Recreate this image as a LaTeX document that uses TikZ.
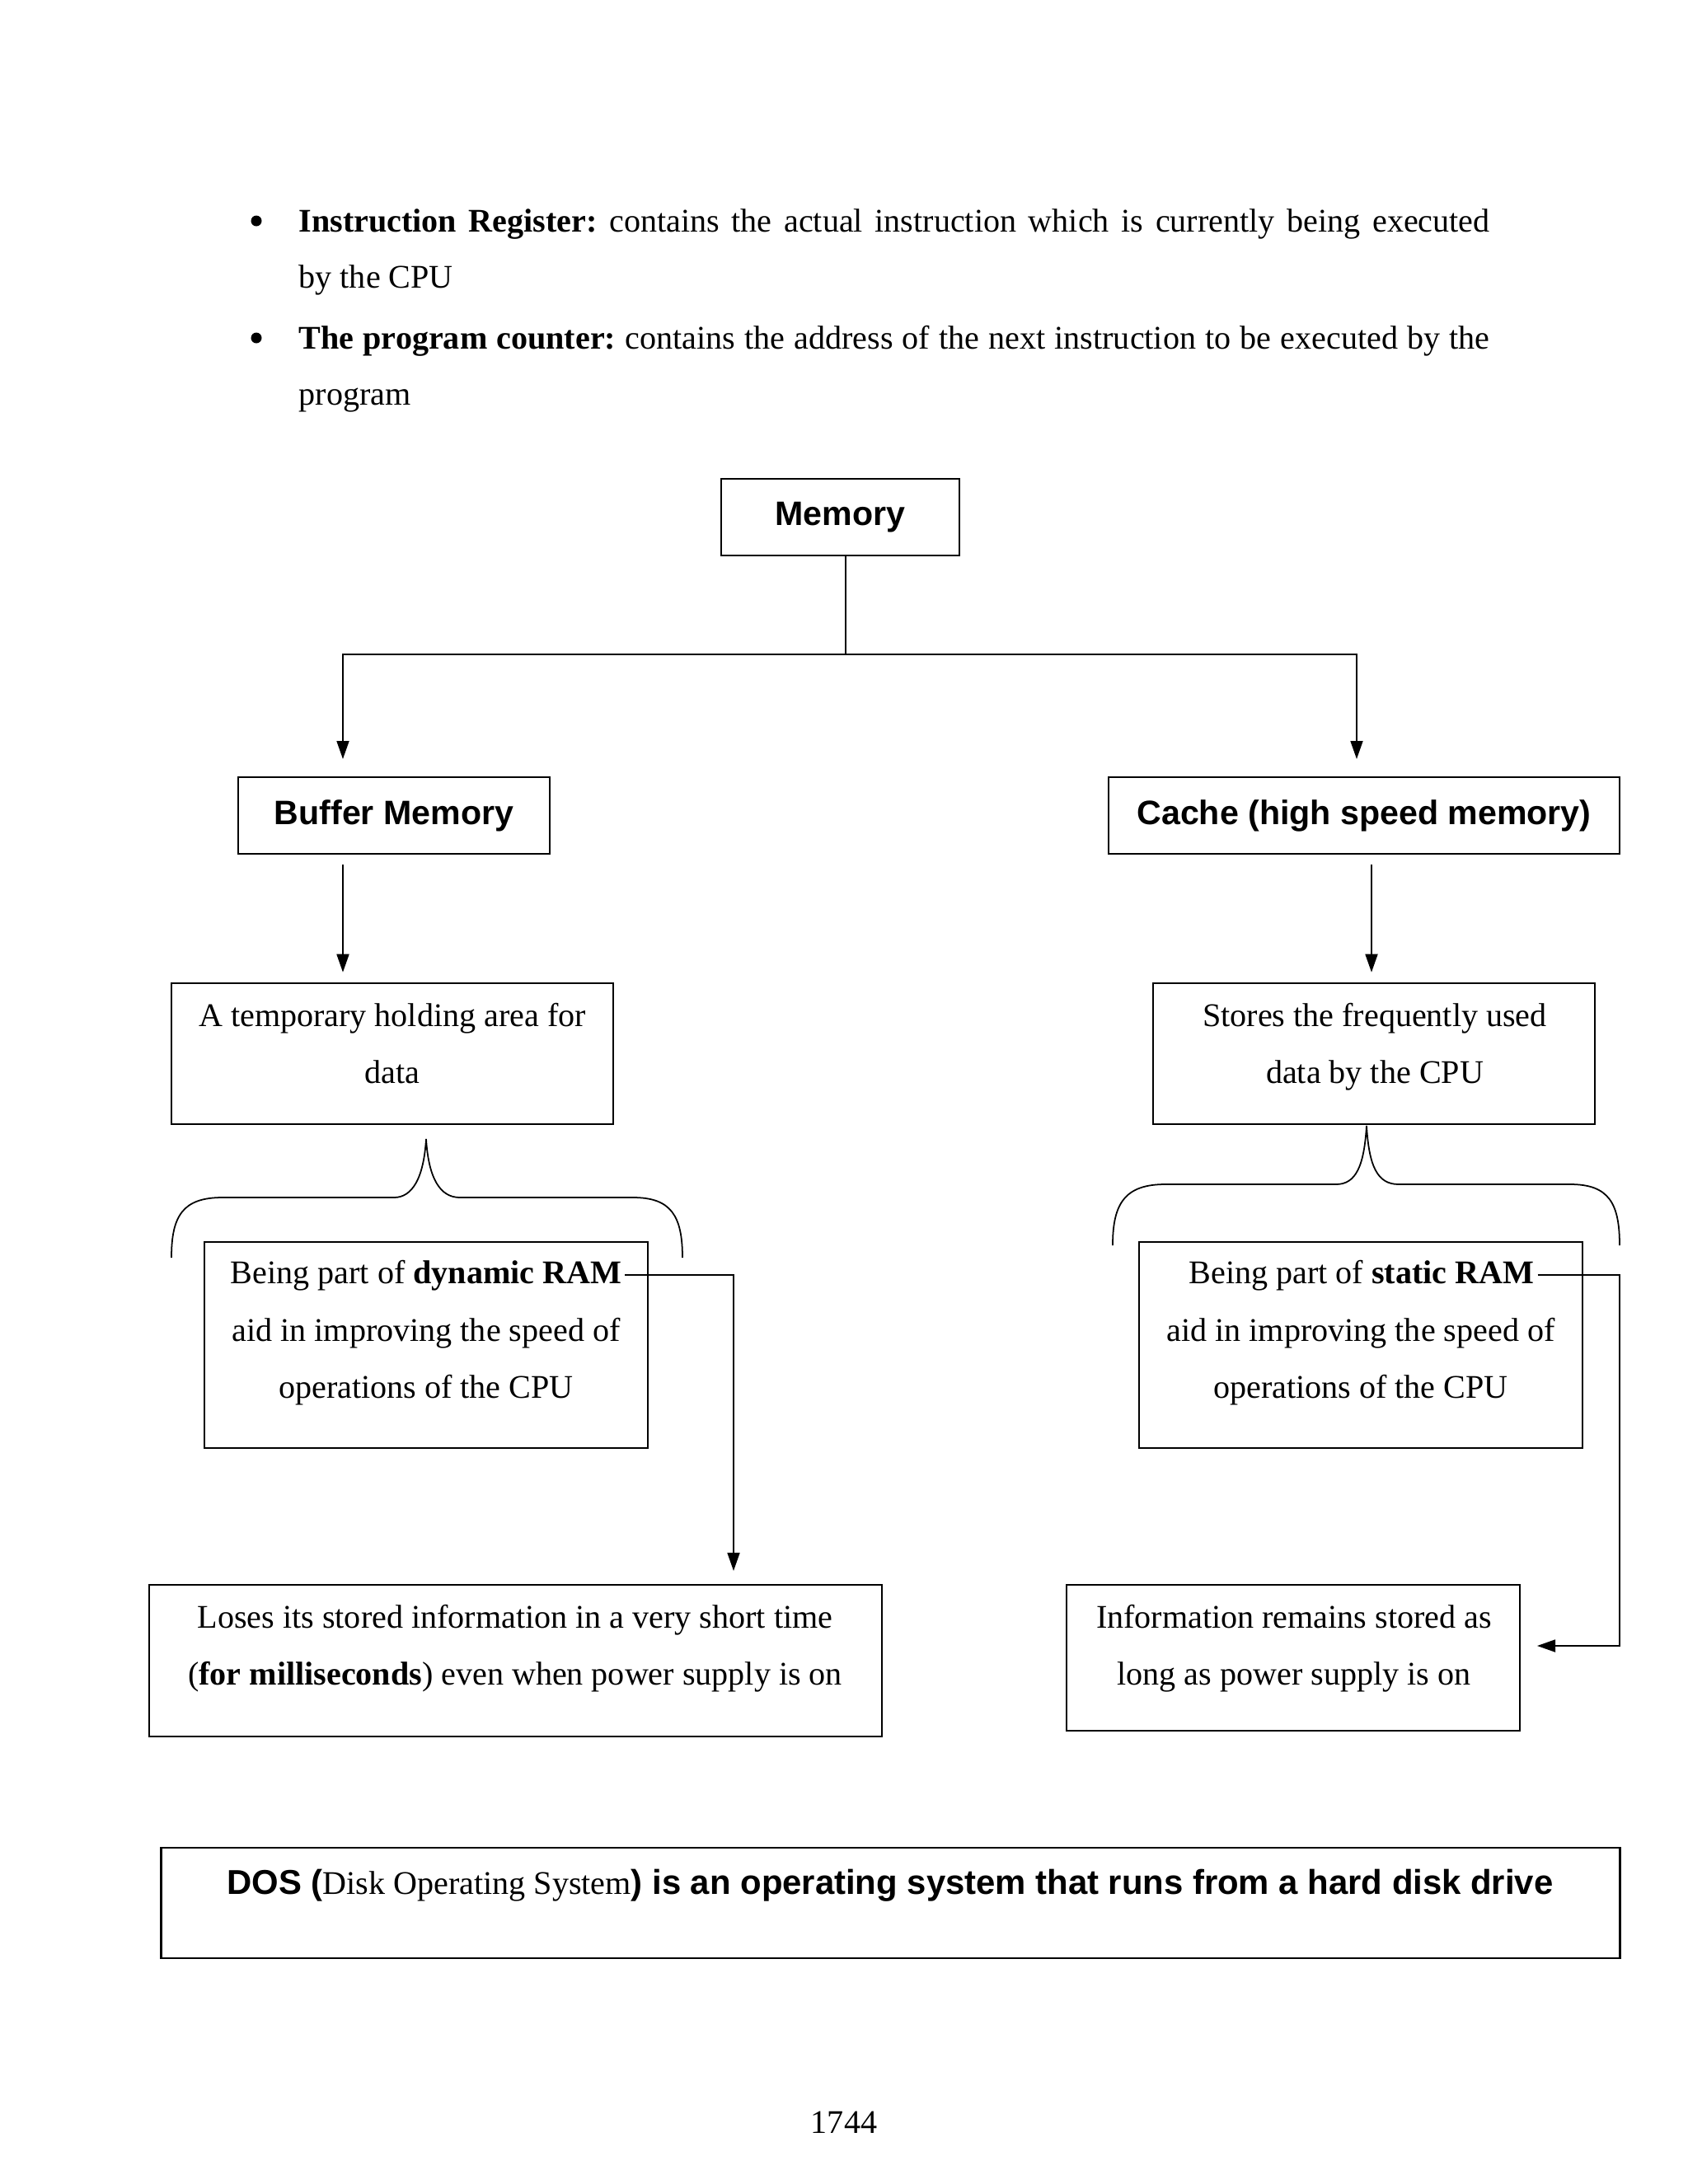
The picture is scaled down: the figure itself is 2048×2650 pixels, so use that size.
\documentclass[tikz,border=0pt]{standalone}
\usepackage{fontspec}
\setmainfont{Liberation Serif}
\newfontfamily\hsans{Liberation Sans}
\usetikzlibrary{arrows.meta}
\begin{document}
\frenchspacing
\begin{tikzpicture}[x=0.01cm,y=-0.01cm,
  box/.style={draw, line width=0.7pt, inner sep=0pt},
  txt/.style={inner sep=1pt, anchor=mid, font=\fontsize{11.4}{19.6}\selectfont},
  hd/.style={font=\hsans\bfseries\fontsize{11.7}{14}\selectfont},
  dot/.style={circle, fill=black, inner sep=0pt, minimum size=0.13cm},
  conn/.style={line width=0.5pt},
  arr/.style={conn, -{Triangle[length=0.22cm,width=0.15cm]}}]
\fill[white] (0,0) rectangle (2048,2650);
\useasboundingbox (0,0) rectangle (2048,2650);

% bullets
\node[dot] (bul1) at (311,268) {};
\node[txt, anchor=base west, inner sep=0pt] (par1) at (362,281) {\parbox[t]{14.44cm}{\textbf{Instruction Register:} contains the actual instruction which is currently being executed\linebreak by the CPU}};
\node[dot] (bul2) at (311,410) {};
\node[txt, anchor=base west, inner sep=0pt] (par2) at (362,423) {\parbox[t]{14.44cm}{\textbf{The program counter:} contains the address of the next instruction to be executed by the\linebreak program}};

% boxes
\node[box, hd, minimum width=2.89cm, minimum height=0.93cm] (mem) at (1019.5,627.5) {Memory};
\node[box, hd, minimum width=3.78cm, minimum height=0.93cm] (buf) at (478,989.5) {Buffer Memory};
\node[box, hd, minimum width=6.20cm, minimum height=0.93cm] (cache) at (1655,989.5) {Cache (high speed memory)};
\node[box, minimum width=5.36cm, minimum height=1.71cm] (temp) at (476,1278.5) {};
\node[box, minimum width=5.36cm, minimum height=1.71cm] (stores) at (1667,1278.5) {};
\node[box, minimum width=5.38cm, minimum height=2.50cm] (dyn) at (517,1632) {};
\node[box, minimum width=5.38cm, minimum height=2.50cm] (stat) at (1651,1632) {};
\node[box, minimum width=8.89cm, minimum height=1.84cm] (loses) at (625.5,2015) {};
\node[box, minimum width=5.50cm, minimum height=1.77cm] (info) at (1569,2011.5) {};
\node[box, minimum width=17.69cm, minimum height=1.34cm] (dos) at (1080.5,2309) {};

% texts
\node[txt] (temp1) at (476,1237) {A temporary holding area for};
\node[txt] (temp2) at (476,1306) {data};
\node[txt] (stores1) at (1668,1237) {Stores the frequently used};
\node[txt] (stores2) at (1668,1306) {data by the CPU};
\node[txt] (dyn1) at (517,1549) {Being part of \textbf{dynamic RAM}};
\node[txt] (dyn2) at (517,1619) {aid in improving the speed of};
\node[txt] (dyn3) at (517,1688) {operations of the CPU};
\node[txt] (stat1) at (1652,1549) {Being part of \textbf{static RAM}};
\node[txt] (stat2) at (1651,1619) {aid in improving the speed of};
\node[txt] (stat3) at (1651,1688) {operations of the CPU};
\node[txt] (loses1) at (625,1967) {Loses its stored information in a very short time};
\node[txt] (loses2) at (625,2036) {(\textbf{for milliseconds}) even when power supply is on};
\node[txt] (info1) at (1570,1967) {Information remains stored as};
\node[txt] (info2) at (1570,2036) {long as power supply is on};
\node[txt] (dost) at (1080,2290) {{\hsans\bfseries\fontsize{11.9}{14}\selectfont DOS (}Disk Operating System{\hsans\bfseries\fontsize{11.9}{14}\selectfont ) is an operating system that runs from a hard disk drive}};
\node[txt] (pg) at (1024,2580) {1744};

% connectors
\coordinate (split) at (1026,794);
\coordinate (bufIn) at (416,921);
\coordinate (cacIn) at (1646,921);
\draw[conn] (mem.south -| split) -- (split);
\draw[arr] (split) -| (bufIn);
\draw[arr] (split) -| (cacIn);
\draw[arr, shorten <=0.12cm, shorten >=0.12cm] (buf.south -| bufIn) -- (temp.north -| bufIn);
\coordinate (cacX) at (1664,1000);
\draw[arr, shorten <=0.12cm, shorten >=0.12cm] (cache.south -| cacX) -- (stores.north -| cacX);

% braces
\draw[conn] (208,1526) .. controls (208,1475) and (222,1453) .. (270,1453) -- (478,1453) .. controls (500,1453) and (514,1430) .. (517,1382) .. controls (520,1430) and (534,1453) .. (558,1453) -- (768,1453) .. controls (814,1453) and (828,1475) .. (828,1526);
\draw[conn] (1350,1511) .. controls (1350,1460) and (1365,1437) .. (1414,1437) -- (1621,1437) .. controls (1645,1437) and (1655,1415) .. (1658,1366) .. controls (1661,1415) and (1671,1437) .. (1697,1437) -- (1905,1437) .. controls (1952,1437) and (1965,1460) .. (1965,1511);

\coordinate (dynEnd) at (890,1906);
\draw[arr] (dyn1.east) -| (dynEnd);
\coordinate (statCorner) at (1965,1997);
\coordinate (infoIn) at (1865,1997);
\draw[arr] (stat1.east) -| (statCorner) -- (infoIn);
\end{tikzpicture}
\end{document}
